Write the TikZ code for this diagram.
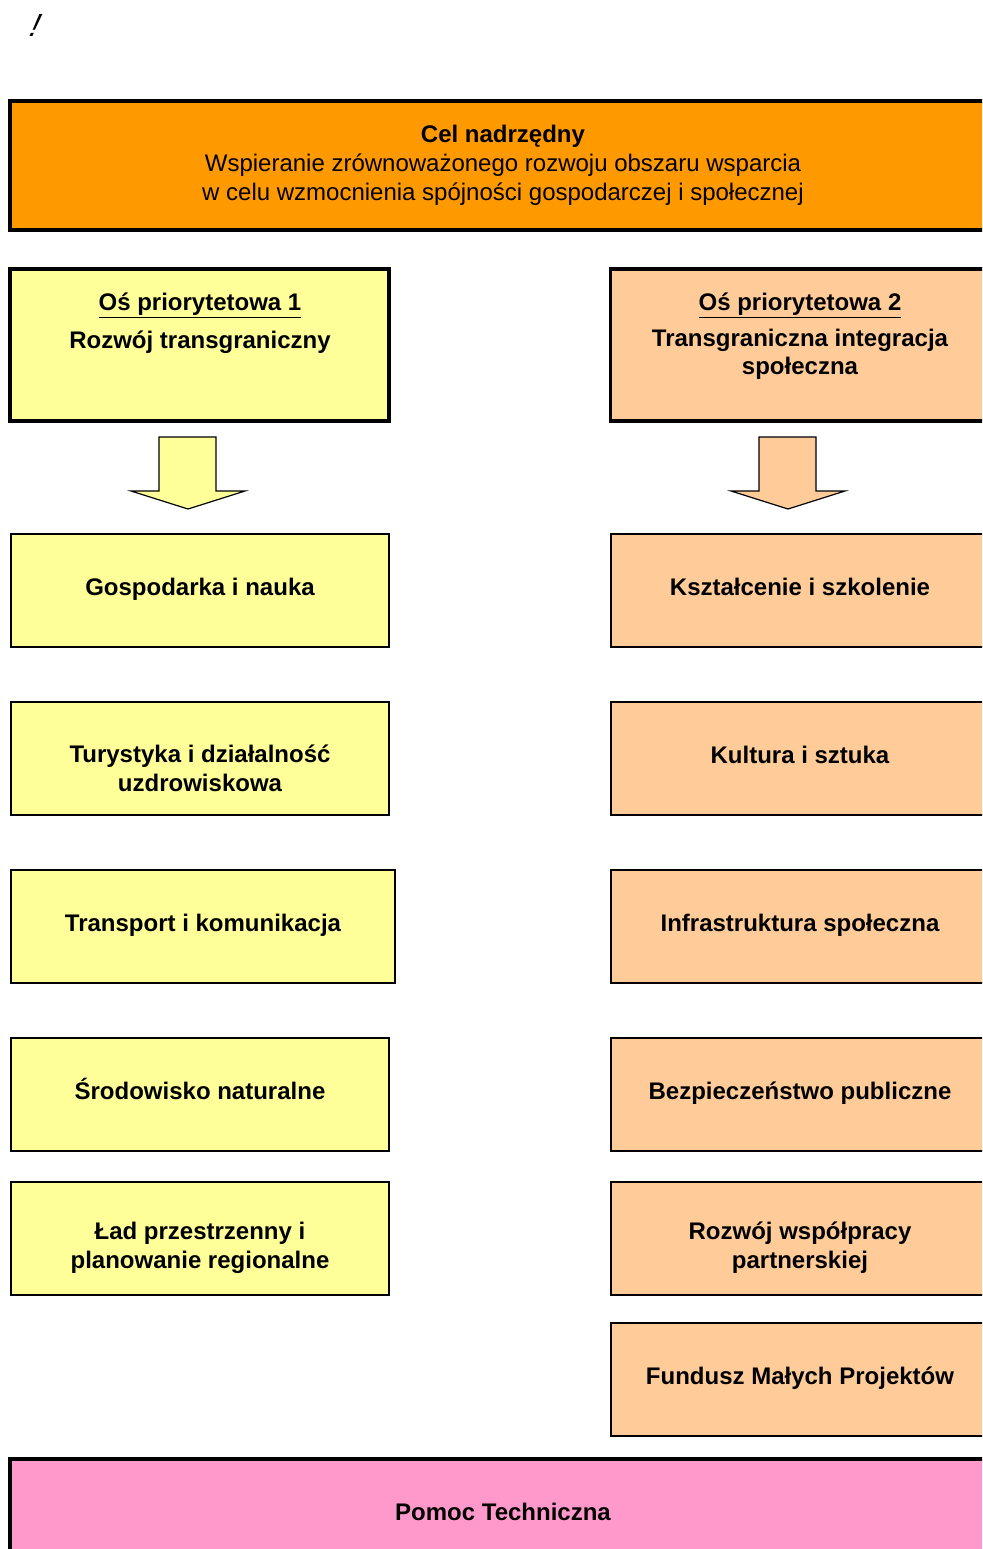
\documentclass[tikz,border=0pt]{standalone}
\usepackage{fontspec}
\setmainfont{Liberation Sans}
\definecolor{celorange}{RGB}{255,153,0}
\definecolor{osyellow}{RGB}{255,255,153}
\definecolor{ospeach}{RGB}{255,204,153}
\definecolor{pomocpink}{RGB}{255,153,204}

\begin{document}
\begin{tikzpicture}[x=0.5pt,y=-0.5pt,
  txt/.style={font=\fontsize{12}{14.5}\selectfont\bfseries,align=center},
  oneline/.style={txt,text height=8.6pt,text depth=0pt,yshift=2pt},
  twoline/.style={txt,yshift=-4.75pt},
  thickbox/.style={draw=black,line width=2pt},
  thinbox/.style={draw=black,line width=0.7pt,minimum width=189pt,minimum height=56.5pt},
  blockarrow/.style={draw=black,line width=0.6pt}]
\tikzstyle{every node}+=[inner sep=0pt]
\useasboundingbox (0,0) rectangle (982,1549);
\clip (0,0) rectangle (982,1549);
\node[font=\fontsize{16}{18}\selectfont,xslant=0.45] (uwaga) at (36,25) {!};
% cel nadrzedny
\node[thickbox,fill=celorange,minimum width=493pt,minimum height=64.5pt] (cel) at (503,165.5) {};
\node[txt] (celtxt) at (503,165) {Cel nadrzędny\\
  \mdseries Wspieranie zrównoważonego rozwoju obszaru wsparcia\\
  \mdseries w celu wzmocnienia spójności gospodarczej i społecznej};
% osie priorytetowe
\node[thickbox,line width=1.6pt,fill=osyellow,minimum width=189.5pt,minimum height=76pt] (os1) at (199.5,345) {};
\node[thickbox,line width=1.6pt,fill=ospeach,minimum width=189.5pt,minimum height=76pt] (os2) at (800,345) {};
\node[txt,anchor=north] (os1txt) at (200,292) {\underline{Oś priorytetowa 1}\\[4.5pt] Rozwój transgraniczny};
\node[txt,anchor=north] (os2txt) at (800,292) {\underline{Oś priorytetowa 2}\\[3.5pt] Transgraniczna integracja\\[-0.5pt] społeczna};
% strzalki
\draw[blockarrow,fill=osyellow] (159,437) -- (216,437) -- (216,491) -- (245,491) -- (188,509) -- (131,491) -- (159,491) -- cycle;
\draw[blockarrow,fill=ospeach] (759,437) -- (816,437) -- (816,491) -- (845,491) -- (788,509) -- (731,491) -- (759,491) -- cycle;
% dzialania osi 1
\node[thinbox,fill=osyellow] (gosp) at (200,590.5) {};
\node[thinbox,fill=osyellow] (tur) at (200,758.5) {};
\node[thinbox,fill=osyellow,minimum width=192pt] (trans) at (203,926.5) {};
\node[thinbox,fill=osyellow] (srod) at (200,1094.5) {};
\node[thinbox,fill=osyellow] (lad) at (200,1238.5) {};
\node[oneline] (gosptxt) at (gosp) {Gospodarka i nauka};
\node[twoline] (turtxt) at (tur) {Turystyka i działalność\\ uzdrowiskowa};
\node[oneline] (transtxt) at (trans) {Transport i komunikacja};
\node[oneline] (srodtxt) at (srod) {Środowisko naturalne};
\node[twoline] (ladtxt) at (lad) {Ład przestrzenny i\\ planowanie regionalne};
% dzialania osi 2
\node[thinbox,fill=ospeach] (ksz) at (800,590.5) {};
\node[thinbox,fill=ospeach] (kult) at (800,758.5) {};
\node[thinbox,fill=ospeach] (infra) at (800,926.5) {};
\node[thinbox,fill=ospeach] (bezp) at (800,1094.5) {};
\node[thinbox,fill=ospeach] (wspol) at (800,1238.5) {};
\node[thinbox,fill=ospeach] (fmp) at (800,1379.5) {};
\node[oneline] (kszttxt) at (ksz) {Kształcenie i szkolenie};
\node[oneline] (kulttxt) at (kult) {Kultura i sztuka};
\node[oneline] (infratxt) at (infra) {Infrastruktura społeczna};
\node[oneline] (bezptxt) at (bezp) {Bezpieczeństwo publiczne};
\node[twoline] (wspoltxt) at (wspol) {Rozwój współpracy\\ partnerskiej};
\node[oneline] (fmptxt) at (fmp) {Fundusz Małych Projektów};
% pomoc techniczna
\node[thickbox,fill=pomocpink,minimum width=493pt,minimum height=53pt] (pomoc) at (503,1512) {};
\node[oneline,yshift=-2pt] (pomoctxt) at (pomoc) {Pomoc Techniczna};
\end{tikzpicture}
\end{document}
